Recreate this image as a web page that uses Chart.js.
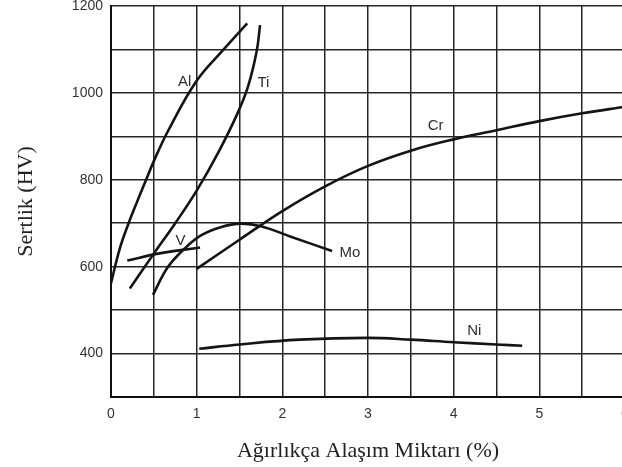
<!DOCTYPE html>
<html>
<head>
<meta charset="utf-8">
<script src="https://cdn.jsdelivr.net/npm/chart.js@4.4.0/dist/chart.umd.min.js"></script>
<style>
  html, body { margin: 0; padding: 0; background: #fff; overflow: hidden; }
  #wrap { width: 628px; height: 467px; position: relative; }
</style>
</head>
<body>
<div id="wrap"><canvas id="myChart"></canvas></div>
<script>
// curves (wt% alloy, hardness HV)
const alX = [0, 0.1, 0.2, 0.31, 0.41, 0.5, 0.67, 1.0, 1.31, 1.59];
const alY = [562, 640, 697, 752, 800, 843, 914, 1028, 1099, 1160];

const tiX = [0.22, 0.5, 0.75, 1.0, 1.25, 1.47, 1.6, 1.7, 1.74];
const tiY = [550, 630, 700, 775, 862, 950, 1015, 1095, 1156];

const vX = [0.19, 0.55, 1.04];
const vY = [614, 630, 644];

const moX = [0.49, 0.66, 0.85, 1.05, 1.28, 1.52, 1.75, 2.1, 2.58];
const moY = [535, 598, 640, 672, 691, 699, 693, 669, 636];

const crX = [1.0, 1.5, 2.0, 2.5, 3.0, 3.5, 4.0, 4.5, 5.0, 5.5, 6.0];
const crY = [595, 662, 728, 785, 832, 867, 893, 914, 935, 953, 968];

const niX = [1.03, 1.5, 2.2, 3.0, 3.5, 4.0, 4.5, 4.8];
const niY = [411, 421, 432, 436, 432, 426, 421, 418];

// curve names and where they are written
const curveNames = ['Al', 'Ti', 'V', 'Mo', 'Cr', 'Ni'];
const nameX = [0.86, 1.78, 0.81, 2.79, 3.79, 4.24];
const nameY = [1025, 1024, 659, 631, 924, 452];

// tick labels
const xTickLabels = [0, 1, 2, 3, 4, 5, 6];
const yTickLabels = [400, 600, 800, 1000, 1200];

const curves = [[alX, alY], [tiX, tiY], [vX, vY], [moX, moY], [crX, crY], [niX, niY]];

const datasets = curves.map((c, i) => ({
    label: curveNames[i],
    data: c[0].map((x, j) => ({ x: x, y: c[1][j] })),
    borderColor: '#141414',
    borderWidth: 2.6,
    pointRadius: 0,
    fill: false,
    tension: 0.4,
}));

const curveNamesPlugin = {
    id: 'curveNames',
    afterDatasetsDraw(chart) {
        const ctx = chart.ctx;
        const xs = chart.scales.x, ys = chart.scales.y;
        ctx.save();
        ctx.font = '15px "Liberation Sans", Arial, sans-serif';
        ctx.fillStyle = '#2e2e2e';
        ctx.textAlign = 'center';
        ctx.textBaseline = 'middle';
        curveNames.forEach((n, i) => {
            ctx.fillText(n, xs.getPixelForValue(nameX[i]), ys.getPixelForValue(nameY[i]));
        });
        ctx.restore();
    }
};

var ctx = document.getElementById('myChart').getContext('2d');

var myChart = new Chart(ctx, {
    type: 'line',
    data: { datasets: datasets },
    plugins: [curveNamesPlugin],
    options: {
        responsive: true,
        maintainAspectRatio: false,
        animation: false,
        layout: { padding: { left: 0, top: 6, right: 3, bottom: 0 } },
        plugins: {
            legend: { display: false },
            tooltip: { enabled: false },
        },
        scales: {
            x: {
                type: 'linear',
                min: 0,
                max: 6,
                afterFit: function (scale) {
                    scale.height = 70;
                    scale.paddingLeft = 0;
                    scale.paddingRight = 0;
                },
                grid: { color: '#262626', lineWidth: 1.5, drawTicks: false },
                border: { color: '#111', width: 2 },
                ticks: {
                    stepSize: 0.5,
                    autoSkip: false,
                    maxRotation: 0,
                    padding: 9,
                    color: '#333',
                    font: { family: '"Liberation Sans", Arial, sans-serif', size: 14 },
                    callback: function (value) {
                        return xTickLabels.includes(value) ? String(value) : '';
                    }
                },
                title: {
                    display: true,
                    text: 'Ağırlıkça Alaşım Miktarı (%)',
                    color: '#222',
                    font: { family: '"Liberation Serif", "Times New Roman", serif', size: 22 },
                    padding: { top: 0, bottom: 3 }
                }
            },
            y: {
                min: 300,
                max: 1200,
                afterFit: function (scale) {
                    scale.width = 111;
                    scale.paddingTop = 0;
                    scale.paddingBottom = 0;
                },
                grid: { color: '#262626', lineWidth: 1.5, drawTicks: false },
                border: { color: '#111', width: 2 },
                ticks: {
                    stepSize: 100,
                    autoSkip: false,
                    padding: 8,
                    color: '#333',
                    font: { family: '"Liberation Sans", Arial, sans-serif', size: 14 },
                    callback: function (value) {
                        return yTickLabels.includes(value) ? String(value) : '';
                    }
                },
                title: {
                    display: true,
                    text: 'Sertlik (HV)',
                    color: '#222',
                    font: { family: '"Liberation Serif", "Times New Roman", serif', size: 22 },
                    padding: { top: 13, bottom: 0 }
                }
            }
        }
    }
});
</script>
</body>
</html>
